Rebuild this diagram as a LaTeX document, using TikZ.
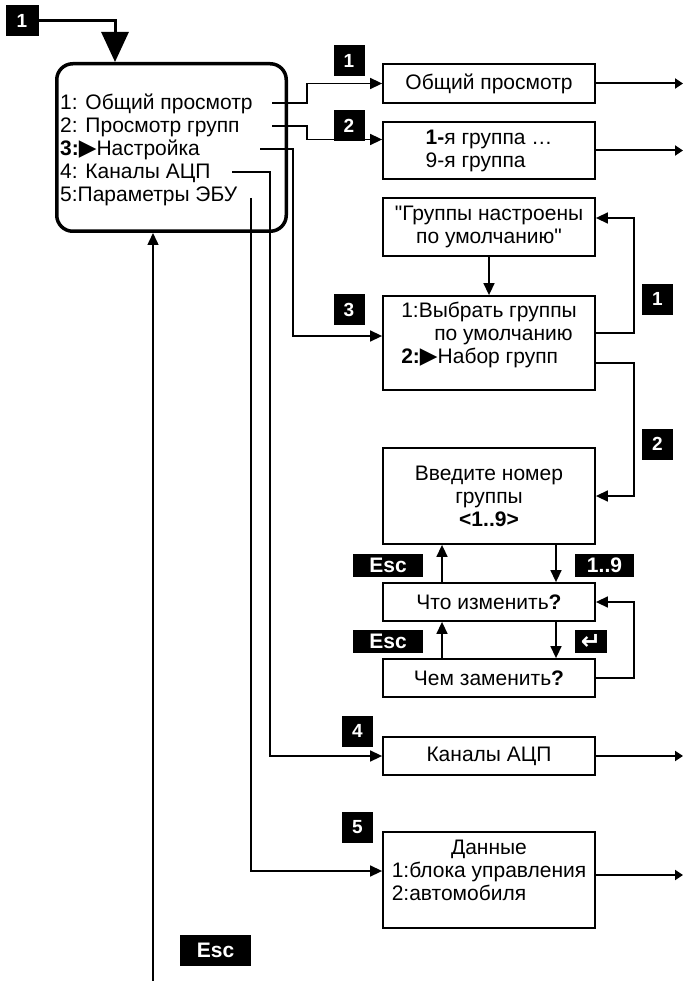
\documentclass[tikz,border=0pt]{standalone}
\usepackage{fontspec}
\setmainfont{Liberation Sans}
\newfontfamily\symfont{DejaVu Sans}
\newfontfamily\quotefont{Liberation Sans}
\usetikzlibrary{arrows.meta,calc}
\newcommand{\tri}{{\symfont\fontsize{23}{23}\selectfont ▶}}
\newcommand{\enterkey}{{\symfont\fontsize{24}{24}\selectfont\bfseries ↵}}
\newcommand{\dq}{{\quotefont"}}

\begin{document}
\begin{tikzpicture}[x=1pt,y=1pt,
    font=\fontsize{21}{23}\selectfont,
    box/.style={draw,line width=1.8pt,minimum width=212pt,inner sep=0pt},
    tag/.style={fill=black,text=white,inner sep=0pt,
        font=\fontsize{19}{19}\selectfont\bfseries,
        minimum width=31pt,minimum height=31pt},
    keytag/.style={tag,minimum height=23pt,font=\fontsize{21}{21}\selectfont\bfseries},
    conn/.style={line width=1.5pt,-{Triangle[length=12pt,width=11pt]}},
    exit/.style={line width=2pt,-{Triangle[length=8pt,width=10pt]}}]
    \useasboundingbox (0,0) rectangle (683,-981);
    % main menu
    \node[draw,line width=3.5pt,rounded corners=16pt,
        minimum width=229.5pt,minimum height=167.5pt] (menu) at (171.5,-147.5) {};
    \foreach \i/\t in {1/{1: Общий просмотр},2/{2: Просмотр групп},
        3/{\textbf{3:}\tri Настройка},4/{4: Каналы АЦП},5/{5:Параметры ЭБУ}}{
        \node[anchor=base west,inner sep=0pt] (m\i) at (60,{-87-23*\i}) {\t};
    }
    \node[tag,minimum width=33pt] (t0) at (22,-21) {1};
    \draw[line width=3pt,-{Triangle[length=30pt,width=27pt]}]
        (t0.east) -| ($(menu.north west)+(60,0)$);
    % right column
    \node[box,minimum height=39pt] (ov) at (489,-83.5) {Общий просмотр};
    \node[box,minimum height=57pt,align=left] (grp) at (489,-150.5)
        {\textbf{1-}я группа …\\9-я группа};
    \node[box,minimum height=58pt,align=center] (dflt) at (489,-227)
        {\dq Группы настроены\\по умолчанию\dq};
    \node[box,minimum height=94pt,align=left] (sel) at (489,-343)
        {1:Выбрать группы\\\hspace{33pt}по умолчанию\\\textbf{2:}\tri Набор групп\\[-2pt]};
    \node[box,minimum height=96pt,align=center] (inp) at (489,-496)
        {Введите номер\\группы\\\textbf{<1..9>}};
    \node[box,minimum height=38pt] (what) at (489,-602) {Что изменить\textbf{?}};
    \node[box,minimum height=38pt] (with) at (489,-678) {Чем заменить\textbf{?}};
    \node[box,minimum height=38pt] (adc) at (489,-756) {Каналы АЦП};
    \node[box,minimum height=96pt] (data) at (489,-880)
        {\begin{tabular}{@{}l@{}}\multicolumn{1}{@{}c@{}}{Данные}\\
        1:блока управления\\2:автомобиля\\[14pt]\end{tabular}};
    % key tags
    \node[tag] (t1) at (349,-60.5) {1};
    \node[tag] (t2) at (349,-126) {2};
    \node[tag] (t3) at (349,-309.5) {3};
    \node[tag] (t4) at (357.5,-731) {4};
    \node[tag] (t5) at (357.5,-827.5) {5};
    \node[tag] (r1) at (657.5,-299) {1};
    \node[tag] (r2) at (657.5,-444) {2};
    \node[keytag,minimum width=70pt] (esc1) at (388,-565.5) {Esc};
    \node[keytag,minimum width=59pt] (num) at (604.5,-565.5) {1..9};
    \node[keytag,minimum width=70pt] (esc2) at (388,-641.5) {Esc};
    \node[keytag,minimum width=32pt] (ent) at (591,-641.5) {\enterkey};
    \node[tag,minimum width=71pt,font=\fontsize{21}{21}\selectfont\bfseries]
        (esc0) at (215.5,-950.5) {Esc};
    % from menu lines
    \coordinate (s1) at (272,-103);
    \coordinate (s2) at (272,-126);
    \coordinate (s3) at (260,-149);
    \coordinate (s4) at (232,-172);
    \coordinate (s5) at (251,-198);
    \draw[conn] (s1) -- ++(35,0) |- (ov.west);
    \draw[conn] (s2) -- ++(35,0) |- ([yshift=11pt]grp.west);
    \draw[conn] (s3) -- ++(33,0) |- ([yshift=7pt]sel.west);
    \draw[conn] (s4) -- ++(38,0) |- (adc.west);
    \draw[conn] (s5) |- ([yshift=9pt]data.west);
    \coordinate (escfoot) at (153,-981);
    \draw[conn] (escfoot) -- (escfoot |- menu.south);
    % set-up loop
    \draw[conn] (dflt.south) -- (sel.north);
    \draw[conn] ([yshift=10pt]sel.east) -- ++(38,0) |- ([yshift=9pt]dflt.east);
    \draw[conn] ([yshift=-20pt]sel.east) -- ++(38,0) |- (inp.east);
    \draw[conn] ([xshift=67pt]inp.south) -- ([xshift=67pt]what.north);
    \draw[conn] ([xshift=-47pt]what.north) -- ([xshift=-47pt]inp.south);
    \draw[conn] ([xshift=67pt]what.south) -- ([xshift=67pt]with.north);
    \draw[conn] ([xshift=-47pt]with.north) -- ([xshift=-47pt]what.south);
    \draw[conn] (with.east) -- ++(38,0) |- (what.east);
    % exits
    \coordinate (rim) at (683,0);
    \foreach \b in {ov,grp,adc}{
        \draw[exit] (\b.east) -- (\b.east -| rim);
    }
    \draw[exit] ([yshift=5pt]data.east) -- ([yshift=5pt]data.east -| rim);
\end{tikzpicture}
\end{document}
